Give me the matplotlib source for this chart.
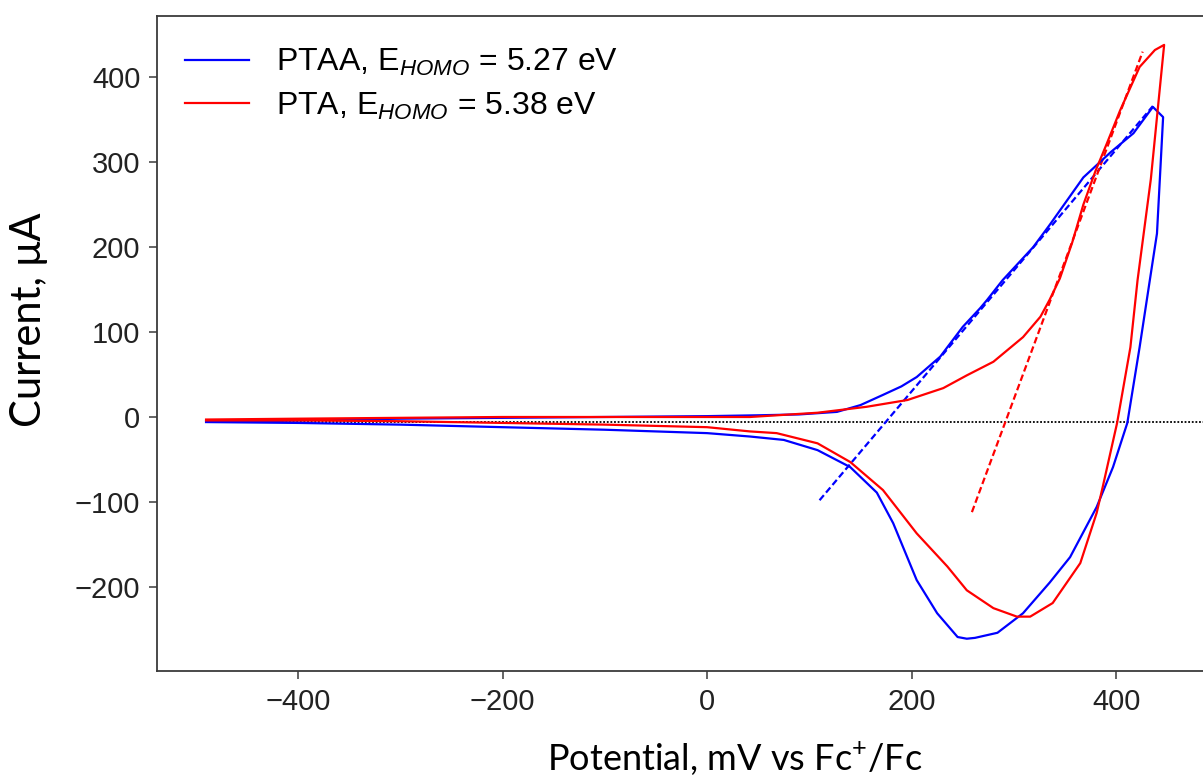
import matplotlib
matplotlib.use("Agg")
import matplotlib.pyplot as plt

# PTAA cyclic voltammogram (forward scan then reverse scan)
ptaa_x = [-490, -400, -300, -200, -100, 0, 50, 90, 127, 150, 172, 190, 205, 228, 250, 267, 274,
          289, 319, 335, 368, 395, 417, 436, 446,
          440, 433, 423, 411, 397, 381, 355, 335, 309, 284, 262, 254, 245, 225, 205, 182, 166,
          140, 108, 75, 42, 0, -100, -200, -300, -400, -490]
ptaa_y = [-5, -4, -2, -1, 0, 1, 2, 3, 6, 14, 26, 36, 47, 71, 106, 128, 138,
          161, 200, 226, 282, 312, 334, 365, 353,
          216, 161, 82, -7, -59, -106, -165, -195, -231, -254, -260, -261, -259, -231, -192, -125, -89,
          -59, -39, -27, -23, -19, -15, -12, -9, -7, -6]

# PTA cyclic voltammogram
pta_x = [-490, -400, -300, -200, -100, 0, 42, 108, 156, 196, 231, 254, 280, 309, 326, 335, 345,
         357, 368, 380, 391, 404, 423, 438, 447,
         434, 421, 414, 401, 387, 381, 365, 338, 316, 303, 280, 254, 235, 205, 172, 140, 108,
         68, 42, 0, -100, -200, -300, -400, -490]
pta_y = [-3, -2, -1, 0, 0, 0, 0, 5, 12, 20, 34, 49, 65, 94, 118, 138, 163,
         205, 250, 290, 322, 361, 412, 432, 438,
         280, 161, 82, -7, -82, -113, -172, -219, -235, -235, -225, -204, -176, -137, -86, -53, -31,
         -19, -17, -12, -9, -7, -5, -4, -4]

# onset tangents
ptaa_tan_x = [110, 436]
ptaa_tan_y = [-98, 366]
pta_tan_x = [259, 426]
pta_tan_y = [-112, 430]

baseline_y = -6

labels = [r"PTAA, E$_{HOMO}$ = 5.27 eV", r"PTA, E$_{HOMO}$ = 5.38 eV"]

plt.rcParams['font.family'] = ['Liberation Sans', 'DejaVu Sans']
plt.rcParams['mathtext.fontset'] = 'custom'
plt.rcParams['mathtext.rm'] = 'Liberation Sans'
plt.rcParams['mathtext.it'] = 'Liberation Sans:italic'

fig = plt.figure(figsize=(12.03, 7.76), dpi=100)
ax = fig.add_axes([157 / 1203, (776 - 671) / 776, 1092 / 1203, 655 / 776])

ax.plot([-490, 530], [baseline_y, baseline_y], color='black', lw=1.3, ls=(0, (1, 1)), zorder=1)
ax.plot(ptaa_x, ptaa_y, color='blue', lw=1.6, label=labels[0], zorder=3)
ax.plot(pta_x, pta_y, color='red', lw=1.6, label=labels[1], zorder=3)
ax.plot(ptaa_tan_x, ptaa_tan_y, color='blue', lw=1.6, ls=(0, (3, 1.5)), zorder=2)
ax.plot(pta_tan_x, pta_tan_y, color='red', lw=1.6, ls=(0, (3, 1.5)), zorder=2)

ax.set_xlim(-538, 530)
ax.set_ylim(-299, 472)
ax.set_xticks([-400, -200, 0, 200, 400])
ax.set_yticks([-200, -100, 0, 100, 200, 300, 400])

for s in ax.spines.values():
    s.set_color('#3a3a3a')
    s.set_linewidth(1.3)
ax.tick_params(length=6, width=1.1, color='#3a3a3a', labelsize=21, pad=6, labelcolor='#222222')

ax.set_xlabel("Potential, mV vs Fc$^{+}$/Fc", family=['Lato', 'DejaVu Sans'], fontsize=26)
ax.xaxis.set_label_coords(0.529, -0.105)
ax.set_ylabel("Current, μA", family=['Lato', 'DejaVu Sans'], fontsize=30)
ax.yaxis.set_label_coords(-0.1, 0.536)

ax.legend(loc='upper left', bbox_to_anchor=(0.026, 0.953), frameon=False, fontsize=23,
          handlelength=2.0, handletextpad=0.85, labelspacing=0.4, borderpad=0, borderaxespad=0)

fig.savefig("out.png", dpi=100)
